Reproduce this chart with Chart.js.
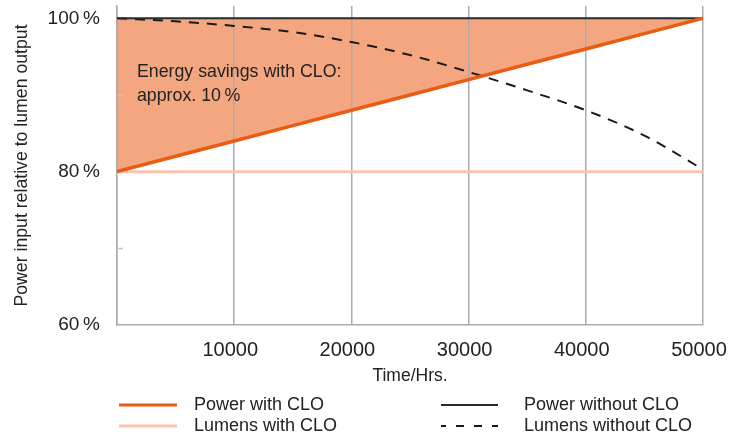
<!DOCTYPE html>
<html>
<head>
<meta charset="utf-8">
<script src="https://cdn.jsdelivr.net/npm/chart.js@4/dist/chart.umd.min.js"></script>
<style>
  html, body { margin: 0; padding: 0; background: #fff; }
  #wrap { width: 736px; height: 439px; }
</style>
</head>
<body>
<div id="wrap"><canvas id="chart" width="736" height="439"></canvas></div>
<script>
// values
const hours = [0, 5000, 10000, 15000, 20000, 25000, 30000, 35000, 40000, 45000, 50000];
const powerWithClo = [80, 82, 84, 86, 88, 90, 92, 94, 96, 98, 100];
const lumensWithClo = [80, 80, 80, 80, 80, 80, 80, 80, 80, 80, 80];
const powerWithoutClo = [100, 100, 100, 100, 100, 100, 100, 100, 100, 100, 100];
const lumensWithoutClo = [100, 99.6, 99.0, 98.2, 96.9, 95.2, 93.0, 90.6, 88.0, 84.7, 80.3];
const yTicks = [60, 70, 80, 90, 100];
const yLabelled = [60, 80, 100];
const xTicks = [10000, 20000, 30000, 40000, 50000];
const noteLines = ["Energy savings with CLO:", "approx. 10\u2009%"];

const FONT = "'Liberation Sans', Arial, Helvetica, sans-serif";
const TEXT = "#222";
const GRID = "#ababab";

const toPoints = vals => vals.map((v, i) => ({ x: hours[i], y: v }));

// annotation text + minor y ticks + legend
const extras = {
  id: "extras",
  afterDatasetsDraw(chart) {
    const { ctx, scales: { x, y }, chartArea } = chart;
    ctx.save();
    ctx.strokeStyle = "#c4c4c4";
    ctx.lineWidth = 1.5;
    [70, 90].forEach(v => {
      const py = Math.round(y.getPixelForValue(v)) + 0.5;
      ctx.beginPath();
      ctx.moveTo(chartArea.left, py);
      ctx.lineTo(chartArea.left + 6, py);
      ctx.stroke();
    });
    ctx.fillStyle = TEXT;
    ctx.font = "17.8px " + FONT;
    ctx.textBaseline = "middle";
    ctx.fillText(noteLines[0], x.getPixelForValue(1700), y.getPixelForValue(93.0));
    ctx.fillText(noteLines[1], x.getPixelForValue(1700), y.getPixelForValue(89.9));
    ctx.restore();
  },
  afterDraw(chart) {
    const { ctx } = chart;
    const cols = [{ x0: 119, x1: 177, tx: 194 }, { x0: 441, x1: 498, tx: 524 }];
    const rows = [405, 426];
    ctx.save();
    ctx.font = "18px " + FONT;
    ctx.textBaseline = "middle";
    chart.data.datasets.forEach((ds, i) => {
      const c = cols[Math.floor(i / 2)];
      const ry = rows[i % 2];
      ctx.strokeStyle = ds.borderColor;
      ctx.lineWidth = Math.min(ds.borderWidth, 3);
      ctx.setLineDash(ds.borderDash ? [8, 10] : []);
      ctx.lineDashOffset = 3;
      ctx.beginPath();
      ctx.moveTo(c.x0, ry);
      ctx.lineTo(c.x1, ry);
      ctx.stroke();
      ctx.setLineDash([]);
      ctx.fillStyle = TEXT;
      ctx.fillText(ds.label, c.tx, ry);
    });
    ctx.restore();
  }
};

new Chart(document.getElementById("chart"), {
  type: "line",
  data: {
    datasets: [
      {
        label: "Power with CLO",
        data: toPoints(powerWithClo),
        borderColor: "rgb(234, 92, 18)",
        borderWidth: 3.5,
        backgroundColor: "rgb(244, 166, 128)",
        fill: { target: 2 },
        pointRadius: 0,
      },
      {
        label: "Lumens with CLO",
        data: toPoints(lumensWithClo),
        borderColor: "rgb(249, 197, 174)",
        borderWidth: 3,
        fill: false,
        pointRadius: 0,
      },
      {
        label: "Power without CLO",
        data: toPoints(powerWithoutClo),
        borderColor: "#2a2a2a",
        borderWidth: 2,
        fill: false,
        pointRadius: 0,
      },
      {
        label: "Lumens without CLO",
        data: toPoints(lumensWithoutClo),
        borderColor: "#1a1a1a",
        borderWidth: 2,
        borderDash: [10, 8],
        cubicInterpolationMode: "monotone",
        fill: false,
        pointRadius: 0,
      },
    ],
  },
  options: {
    responsive: false,
    animation: false,
    events: [],
    layout: { padding: { top: 6, right: 33, bottom: 52, left: 0 } },
    plugins: {
      legend: { display: false },
      tooltip: { enabled: false },
      filler: { drawTime: "beforeDraw" },
    },
    scales: {
      x: {
        type: "linear",
        min: 0,
        max: 50000,
        afterBuildTicks: s => { s.ticks = [0, ...xTicks].map(v => ({ value: v })); },
        afterFit: s => { s.height = 62; s.paddingLeft = 0; s.paddingRight = 0; },
        grid: { color: GRID, lineWidth: 1.5, drawTicks: false },
        border: { color: GRID, width: 1.5 },
        ticks: {
          padding: 13,
          labelOffset: -4,
          color: TEXT,
          font: { family: FONT, size: 20 },
          maxRotation: 0,
          callback: v => (v === 0 ? "" : String(v)),
        },
        title: {
          display: true,
          text: "Time/Hrs.",
          color: TEXT,
          font: { family: FONT, size: 17.5 },
          padding: { top: 0, bottom: 0 },
        },
      },
      y: {
        min: 60,
        max: 101.6,
        afterBuildTicks: s => { s.ticks = yTicks.map(v => ({ value: v })); },
        afterFit: s => { s.width = 117; s.paddingTop = 0; s.paddingBottom = 0; },
        grid: { display: false },
        border: { color: GRID, width: 1.5 },
        ticks: {
          padding: 9,
          color: TEXT,
          font: { family: FONT, size: 19 },
          callback: v => (yLabelled.includes(v) ? v + "\u2009%" : ""),
        },
        title: {
          display: true,
          text: "Power input relative to lumen output",
          color: TEXT,
          font: { family: FONT, size: 17.7 },
          padding: { top: 11, bottom: 0 },
        },
      },
    },
  },
  plugins: [extras],
});
</script>
</body>
</html>
